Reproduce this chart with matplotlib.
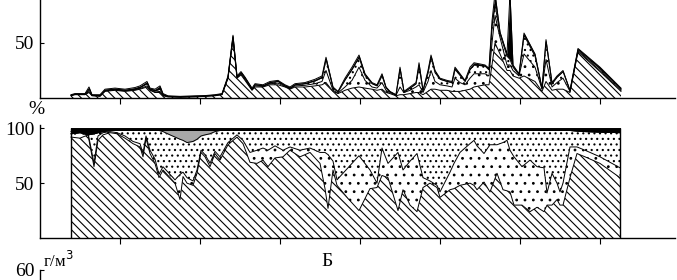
import numpy as np
import matplotlib
matplotlib.use("Agg")
import matplotlib.pyplot as plt

# top panel: g/m3, cumulative boundaries of the layers
top_x = [31, 35, 45, 49, 52, 60, 65, 75, 85, 95,
         100, 107, 110, 115, 120, 123, 128, 140, 155, 165,
         175, 182, 188, 193, 197, 201, 205, 212, 215, 223,
         230, 238, 245, 250, 255, 265, 275, 282, 286, 293,
         298, 305, 312, 319, 325, 332, 337, 342, 346, 350,
         356, 360, 364, 370, 376, 379, 383, 388, 391, 395,
         400, 407, 412, 415, 420, 425, 430, 434, 445, 449,
         452, 455, 460, 467, 470, 473, 479, 484, 495, 502,
         506, 512, 517, 523, 530, 538, 560, 581]
top_hatch = [2, 3, 3, 5, 2, 1.5, 6, 7, 6, 7,
             8, 10, 7, 5, 5, 2, 1, 0.7, 1, 1.5,
             2, 3, 18, 54, 18, 21, 16, 7, 10, 10,
             12, 12, 10, 8, 10, 10, 11, 12, 14, 6,
             4, 7, 9, 10, 9, 8, 7, 8, 5, 4,
             2, 3, 3, 4, 5, 5, 3, 6, 8, 8,
             7, 7, 6, 6, 6, 7, 8, 10, 12, 12,
             30, 50, 40, 25, 25, 20, 18, 20, 15, 6,
             15, 7, 8, 8, 5, 42, 24, 6]
top_white = [2.3, 3.3, 3.3, 6, 2.3, 1.8, 6.5, 7.5, 6.5, 7.5,
             8.5, 11, 7.5, 5.5, 6, 2.5, 1.2, 0.9, 1.2, 1.7,
             2.3, 3.3, 18.5, 55, 18.5, 22, 17, 7.5, 11, 10.5,
             13, 13.5, 10.5, 8.5, 11, 11.5, 13, 15, 25, 7,
             4.5, 10, 16, 28, 16, 10, 9, 14, 7, 5,
             2.5, 10, 5, 7, 10, 12, 5, 15, 25, 15,
             12, 11, 10, 18, 14, 12, 18, 22, 22, 20,
             50, 75, 55, 30, 30, 25, 20, 40, 28, 8,
             35, 10, 14, 18, 6, 43, 25, 7]
top_dots = [2.6, 3.6, 3.6, 8, 2.6, 2.2, 7, 8, 7, 8,
            9.5, 13, 8, 6.5, 8, 3, 1.5, 1.1, 1.5, 1.9,
            2.6, 3.6, 19, 56, 19, 23, 18, 8, 12, 11,
            14, 15, 11, 9, 12, 13, 15.5, 18.5, 35, 9,
            5.5, 16.5, 26, 37, 20.5, 13, 11, 20.5, 9, 5.5,
            2.8, 26, 5.5, 9, 13, 29, 6.5, 23, 37, 23,
            17, 15, 14, 26, 20.5, 15, 26, 30, 29, 25.5,
            65, 85, 58, 38, 35, 28, 21, 57, 38, 8.5,
            51, 13, 19, 24, 6.5, 44, 26.5, 8]
top_total = [3, 4, 4, 10, 3, 3, 8, 9, 8, 9.5,
             11, 15, 9, 8, 11, 4, 2, 1.5, 2, 2.2,
             3, 4, 20, 57, 20, 24, 19, 9, 13, 12,
             15, 16, 12, 10, 13, 14, 17, 20, 37, 10,
             6, 18, 28, 39, 22, 14, 12, 22, 10, 6,
             3, 28, 6, 10, 14, 32, 7, 25, 39, 25,
             18, 16, 15, 28, 22, 16, 28, 32, 30, 27,
             70, 95, 60, 40, 95, 30, 22, 59, 40, 9,
             53, 14, 20, 25, 7, 45, 28, 9]

# bottom panel: %, cumulative boundaries
bot_x = [31, 40, 48, 54, 58, 63, 70, 77, 85, 93,
         100, 103, 106, 110, 115, 119, 123, 130, 135, 140,
         143, 147, 153, 157, 161, 165, 170, 175, 180, 188,
         197, 203, 210, 217, 223, 228, 235, 243, 250, 260,
         270, 280, 285, 288, 293, 297, 308, 319, 330, 337,
         342, 348, 358, 363, 370, 377, 383, 390, 397, 400,
         410, 414, 420, 430, 434, 437, 444, 450, 457, 463,
         467, 470, 474, 482, 490, 497, 504, 507, 512, 517,
         520, 523, 530, 537, 545, 560, 580]
bot_hatch = [92, 91, 94, 65, 89, 94, 96, 95, 91, 86,
             83, 74, 91, 77, 68, 55, 62, 55, 50, 35,
             56, 50, 48, 59, 78, 74, 65, 77, 71, 85,
             92, 86, 69, 68, 71, 65, 73, 74, 80, 74,
             78, 68, 45, 27, 62, 48, 36, 25, 45, 46,
             57, 55, 25, 44, 30, 24, 46, 50, 46, 37,
             44, 45, 48, 50, 48, 44, 51, 42, 59, 44,
             43, 42, 30, 30, 24, 28, 24, 30, 30, 35,
             30, 30, 55, 77, 74, 68, 55]
bot_white = [97, 98, 96, 68, 93, 96, 97, 96, 93, 88,
             86, 77, 93, 80, 72, 58, 65, 58, 53, 58,
             60, 55, 52, 62, 80, 76, 68, 79, 74, 87,
             94, 89, 78, 80, 82, 80, 84, 80, 83, 80,
             82, 78, 78, 76, 70, 53, 64, 75, 62, 50,
             82, 68, 78, 62, 70, 77, 55, 52, 48, 42,
             60, 68, 78, 86, 89, 84, 77, 85, 85, 87,
             89, 80, 74, 65, 71, 65, 64, 41, 59, 50,
             42, 50, 83, 83, 80, 74, 64]
bot_dots = [95, 96, 94, 95, 96, 97, 98, 98, 98, 98,
            98, 98, 98, 98, 98, 98, 97, 94, 92, 90,
            89, 87, 88, 90, 93, 94, 95, 97, 98, 98,
            98, 98, 98, 98, 98, 98, 98, 98, 98, 98,
            98, 98, 98, 98, 98, 98, 98, 98, 98, 98,
            98, 98, 98, 98, 98, 98, 98, 98, 98, 98,
            98, 98, 98, 98, 98, 98, 98, 98, 98, 98,
            98, 98, 98, 98, 98, 98, 98, 98, 98, 98,
            98, 98, 98, 97.5, 97, 96.5, 96]
bot_gray = [95, 96, 94, 95, 96, 97, 98, 98, 98, 98,
            98, 98, 98, 98, 98, 98, 98, 98, 98, 98,
            98, 98, 98, 98, 98, 98, 98, 98, 98, 98,
            98, 98, 98, 98, 98, 98, 98, 98, 98, 98,
            98, 98, 98, 98, 98, 98, 98, 98, 98, 98,
            98, 98, 98, 98, 98, 98, 98, 98, 98, 98,
            98, 98, 98, 98, 98, 98, 98, 98, 98, 98,
            98, 98, 98, 98, 98, 98, 98, 98, 98, 98,
            98, 98, 98, 97.5, 97, 96.5, 96]
bot_total = [100] * len(bot_x)

x_ticks = [80, 160, 240, 320, 400, 480, 560]

plt.rcParams['font.family'] = ['Liberation Serif', 'DejaVu Serif']
plt.rcParams['hatch.linewidth'] = 0.8

HATCH = '\\\\\\\\'
DENSE = '...'
SPARSE = '..'


def stack(ax, x, bounds, styles):
    """ 累積境界の間を塗りつぶし、境界線を描く """
    lo = np.zeros(len(x))
    for hi, (fc, hatch) in zip(bounds, styles):
        hi = np.asarray(hi, dtype=float)
        ax.fill_between(x, lo, hi, facecolor=fc, hatch=hatch,
                        edgecolor='black', linewidth=0)
        lo = hi
    for hi in bounds:
        ax.plot(x, hi, color='black', lw=0.7)


def style_axis(ax):
    for s in ('top', 'right'):
        ax.spines[s].set_visible(False)
    ax.spines['left'].set_linewidth(1.0)
    ax.spines['bottom'].set_linewidth(1.0)
    ax.set_xlim(0, 635)
    ax.set_xticks(x_ticks)
    ax.tick_params(axis='x', direction='out', length=4, labelbottom=False)
    ax.tick_params(axis='y', direction='in', length=3, labelsize=14, pad=4)


fig = plt.figure(figsize=(6.77, 2.8), dpi=100)
ax1 = fig.add_axes([40 / 677, 1 - 98 / 280, 635 / 677, 98 / 280])
ax2 = fig.add_axes([40 / 677, 1 - 238 / 280, 635 / 677, 113 / 280])
ax3 = fig.add_axes([40 / 677, 0, 635 / 677, 10 / 280])

stack(ax1, top_x, [top_hatch, top_white, top_dots, top_total],
      [('white', HATCH), ('white', SPARSE), ('white', DENSE), ('black', None)])
style_axis(ax1)
ax1.set_ylim(0, 89)
ax1.set_yticks([50])

stack(ax2, bot_x, [bot_hatch, bot_white, bot_dots, bot_gray, bot_total],
      [('white', HATCH), ('white', SPARSE), ('white', DENSE),
       ('#a8a8a8', None), ('black', None)])
ax2.vlines([bot_x[0], bot_x[-1]], 0, 100, color='black', lw=1.0)
style_axis(ax2)
ax2.set_ylim(0, 103)
ax2.set_yticks([50, 100])

style_axis(ax3)
ax3.spines['bottom'].set_visible(False)
ax3.set_ylim(57, 60)
ax3.set_yticks([60])
ax3.tick_params(axis='x', length=0)

fig.text(36 / 677, 1 - 110 / 280, '%', ha='center', va='center', fontsize=14)
fig.text(58 / 677, 1 - 261 / 280, 'г/м$^3$', ha='center', va='center', fontsize=12)
fig.text(327 / 677, 1 - 262 / 280, 'Б', ha='center', va='center', fontsize=14)

fig.savefig('out.png', dpi=100)
